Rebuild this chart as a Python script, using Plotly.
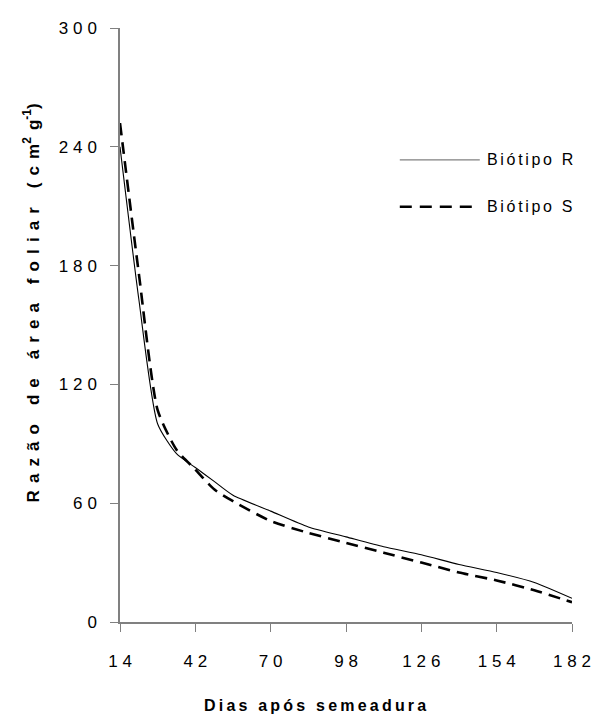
import plotly.graph_objects as go

# Days after sowing and leaf area ratio (cm2 g-1) for each biotype
days = [14, 21, 28, 35, 42, 49, 56, 70, 84, 98, 112, 126, 140, 154, 168, 182]
biotipo_r = [240, 163, 100, 85, 78, 71, 64, 56, 48, 43, 38, 34, 29, 25, 20, 12]
biotipo_s = [252, 176, 107, 87, 77, 67, 61, 51, 45, 40, 35, 30, 25, 21, 16, 10]

x_ticks = [14, 42, 70, 98, 126, 154, 182]
y_ticks = [0, 60, 120, 180, 240, 300]

HAIR = "\u200a"
THIN = "\u2009"
TICK_GAP = THIN + HAIR
WIDE_GAP = "\u2004" + HAIR


def spaced(text, sep):
    return sep.join(text)


FONT = "Liberation Sans, Arial, sans-serif"
DASH = "12px,7px"

fig = go.Figure()
fig.add_trace(go.Scatter(
    x=days, y=biotipo_r, mode="lines", name="Biótipo R",
    line=dict(color="black", width=1.1, shape="spline", smoothing=0.6),
    showlegend=False,
))
fig.add_trace(go.Scatter(
    x=days, y=biotipo_s, mode="lines", name="Biótipo S",
    line=dict(color="black", width=2.6, dash=DASH, shape="spline", smoothing=0.6),
    showlegend=False,
))

# Legend drawn as line samples with labels
legend_items = [("Biótipo R", "solid", 1.2, "#808080", 0.778),
                ("Biótipo S", "12px,8px", 2.6, "black", 0.699)]
for label, dash, width, color, yy in legend_items:
    fig.add_shape(type="line", xref="paper", yref="paper",
                  x0=0.619, x1=0.796, y0=yy, y1=yy,
                  line=dict(color=color, width=width, dash=dash))
    fig.add_annotation(text=spaced(label, HAIR + HAIR), xref="paper", yref="paper",
                       x=0.808, y=yy, xanchor="left", yanchor="middle",
                       showarrow=False, font=dict(family=FONT, size=16, color="black"))

# Axis titles
fig.add_annotation(
    text="<b>" + spaced("Dias após semeadura", THIN) + "</b>",
    xref="paper", yref="paper", x=0.431, y=-0.14,
    xanchor="center", yanchor="middle", showarrow=False,
    font=dict(family=FONT, size=16, color="black"),
)
fig.add_annotation(
    text="<b>" + spaced("Razão de área foliar (cm", WIDE_GAP)
    + "<sup>2</sup>" + WIDE_GAP + "g<sup>-1</sup>)</b>",
    xref="paper", yref="paper", x=-0.196, y=0.537, textangle=-90,
    xanchor="center", yanchor="middle", showarrow=False,
    font=dict(family=FONT, size=17, color="black"),
)

axis_style = dict(
    showgrid=False, zeroline=False, showline=True, automargin=False,
    linecolor="#808080", linewidth=1.5,
    ticks="outside", ticklen=8, tickcolor="#808080", tickwidth=1.2,
    tickfont=dict(family=FONT, size=17, color="black"),
)

fig.update_layout(
    width=595, height=715,
    margin=dict(l=120, r=23, t=28, b=93),
    paper_bgcolor="white", plot_bgcolor="white",
    font=dict(family=FONT, size=16, color="black"),
    xaxis=dict(
        range=[14, 182], tickvals=x_ticks,
        ticktext=[spaced(str(v), TICK_GAP) for v in x_ticks],
        ticklabelstandoff=15, **axis_style,
    ),
    yaxis=dict(
        range=[0, 300], tickvals=y_ticks,
        ticktext=[spaced(str(v), TICK_GAP) for v in y_ticks],
        ticklabelstandoff=10, **axis_style,
    ),
)

fig.write_html("out.html")
